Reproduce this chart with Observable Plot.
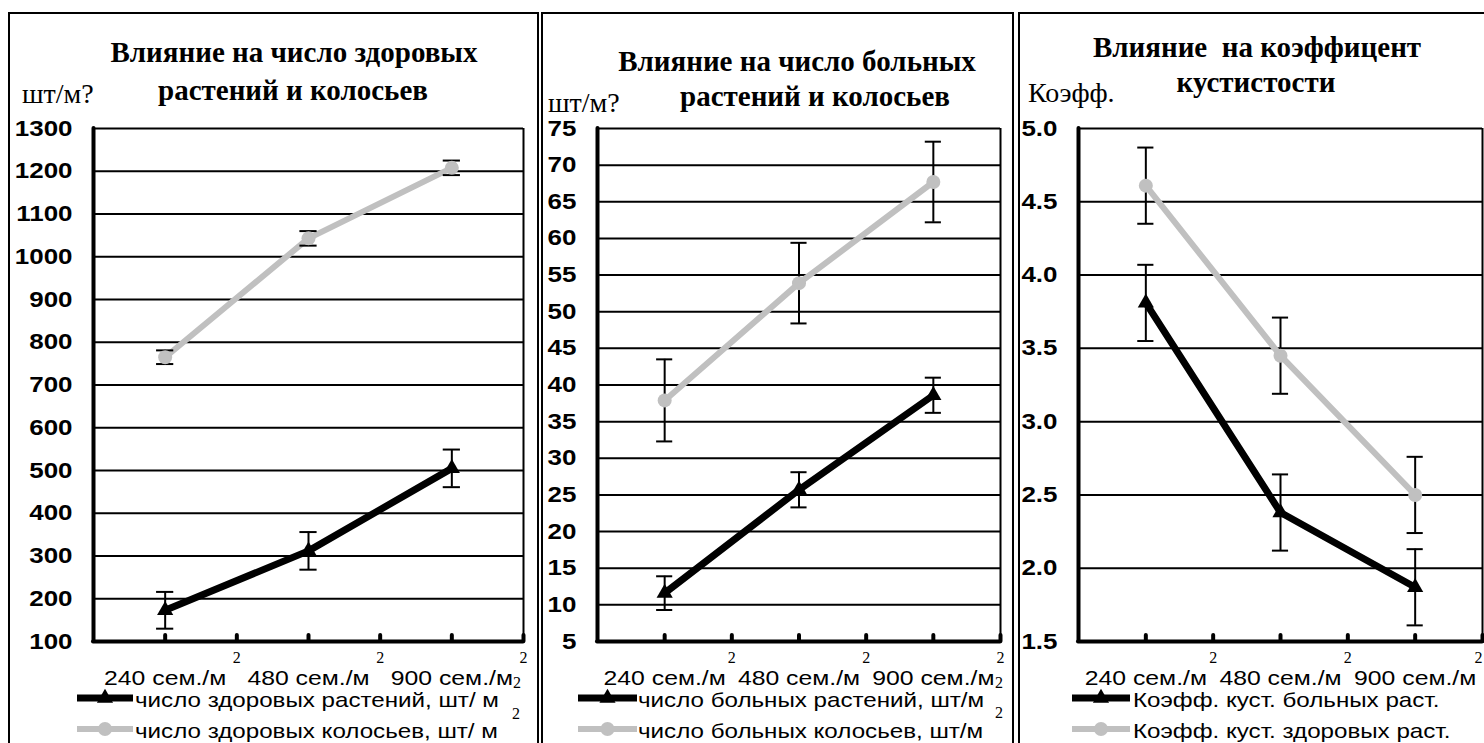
<!DOCTYPE html>
<html><head><meta charset="utf-8">
<script src="https://cdn.jsdelivr.net/npm/d3@7"></script>
<script src="https://cdn.jsdelivr.net/npm/@observablehq/plot@0.6"></script>
<style>
body{margin:0;background:#fff;}
#root{position:relative;width:1484px;height:743px;overflow:hidden;background:#fff;}
#root > svg{position:absolute;top:0;}
</style></head>
<body><div id="root"></div>
<script>
// ---------- data ----------
const categories = ["240 сем./м", "480 сем./м", "900 сем./м"];

// panel 1: healthy plants / healthy ears, pcs per m²
const healthyPlants    = [173, 312, 505];
const healthyPlantsErr = [43, 44, 44];
const healthyEars      = [765, 1043, 1208];
const healthyEarsErr   = [16, 17, 17];
const yTicks1 = [100, 200, 300, 400, 500, 600, 700, 800, 900, 1000, 1100, 1200, 1300];

// panel 2: diseased plants / diseased ears
const diseasedPlants    = [11.6, 25.7, 38.6];
const diseasedPlantsErr = [2.3, 2.4, 2.4];
const diseasedEars      = [37.9, 53.9, 67.7];
const diseasedEarsErr   = [5.6, 5.5, 5.5];
const yTicks2 = [5, 10, 15, 20, 25, 30, 35, 40, 45, 50, 55, 60, 65, 70, 75];

// panel 3: tillering coefficient
const tillerDiseased    = [3.81, 2.38, 1.87];
const tillerDiseasedErr = [0.26, 0.26, 0.26];
const tillerHealthy     = [4.61, 3.45, 2.50];
const tillerHealthyErr  = [0.26, 0.26, 0.26];
const yTicks3 = [1.5, 2.0, 2.5, 3.0, 3.5, 4.0, 4.5, 5.0];

const titles = [
  ["Влияние на число здоровых", "растений и колосьев"],
  ["Влияние на число больных", "растений и колосьев"],
  ["Влияние  на коэффицент", "кустистости"]
];
const units = ["шт/м?", "шт/м?", "Коэфф."];
const legends = [
  ["число здоровых растений, шт/ м", "число здоровых колосьев, шт/ м"],
  ["число больных растений, шт/м", "число больных колосьев, шт/м"],
  ["Коэфф. куст. больных раст.", "Коэфф. куст. здоровых раст."]
];

// ---------- drawing ----------
const SANS = "'Liberation Sans', Arial, sans-serif";
const SERIF = "'Liberation Serif', 'Times New Roman', serif";
const GREY = "#c0c0c0";
const H = 743, MT = 128, MB = 102;
const root = document.getElementById("root");

function rows(vals, errs) { return vals.map((v, i) => ({x: i + 0.5, v, e: errs[i]})); }

function errMarks(r) {
  return [
    Plot.ruleX(r, {x: "x", y1: d => d.v - d.e, y2: d => d.v + d.e, stroke: "black", strokeWidth: 2}),
    Plot.ruleY(r, {y: d => d.v + d.e, x1: d => d.x - 0.06, x2: d => d.x + 0.06, stroke: "black", strokeWidth: 2}),
    Plot.ruleY(r, {y: d => d.v - d.e, x1: d => d.x - 0.06, x2: d => d.x + 0.06, stroke: "black", strokeWidth: 2})
  ];
}

function panel({left, width, ml, mr, yTicks, fmt, black, grey, lastDx}) {
  const ydom = [yTicks[0], yTicks[yTicks.length - 1]];
  const plotH = H - MT - MB;
  const supStyle = {text: () => "2", frameAnchor: "bottom", lineAnchor: "bottom", dy: 21, fontFamily: SERIF, fontSize: 16, fill: "black"};
  const chart = Plot.plot({
    width, height: H,
    marginLeft: ml, marginRight: mr, marginTop: MT, marginBottom: MB,
    x: {domain: [0, 3], axis: null},
    y: {domain: ydom, label: null},
    style: {fontFamily: SANS, fontSize: "21px", background: "transparent", overflow: "visible", color: "black"},
    marks: [
      Plot.ruleY(yTicks.slice(1), {stroke: "black", strokeWidth: 2}),
      Plot.ruleX([3], {stroke: "black", strokeWidth: 2}),
      Plot.ruleX([0], {stroke: "black", strokeWidth: 4, strokeLinecap: "round"}),
      Plot.ruleY([ydom[0]], {stroke: "black", strokeWidth: 4, strokeLinecap: "round"}),
      Plot.tickX([0.5, 1, 1.5, 2, 2.5, 3], {x: d => d, insetTop: plotH - 6, stroke: "black", strokeWidth: 4, strokeLinecap: "round"}),
      Plot.axisY({ticks: yTicks, tickSize: 0, tickPadding: 21, tickFormat: fmt, fontWeight: "bold", fontSize: 22, fill: "black", label: null}),
      Plot.text(categories.map((c, i) => ({x: i + 0.5, c})), {x: "x", text: "c", frameAnchor: "bottom", lineAnchor: "bottom", dy: 43, fontSize: 21, fill: "black"}),
      Plot.text([1, 2], {x: d => d, ...supStyle}),
      Plot.text([3], {x: d => d, dx: lastDx, ...supStyle}),
      Plot.line(grey, {x: "x", y: "v", stroke: GREY, strokeWidth: 6}),
      Plot.line(black, {x: "x", y: "v", stroke: "black", strokeWidth: 7}),
      ...errMarks(grey),
      ...errMarks(black),
      Plot.dot(grey, {x: "x", y: "v", r: 7, fill: GREY, stroke: null}),
      Plot.dot(black, {x: "x", y: "v", r: 6, symbol: "triangle", fill: "black", stroke: null})
    ]
  });
  chart.style.left = left + "px";
  root.appendChild(chart);
}

panel({left: 0, width: 540, ml: 93, mr: 17, yTicks: yTicks1, fmt: d3.format("d"), lastDx: 0,
  black: rows(healthyPlants, healthyPlantsErr), grey: rows(healthyEars, healthyEarsErr)});
panel({left: 540, width: 475, ml: 57, mr: 15, yTicks: yTicks2, fmt: d3.format("d"), lastDx: 0,
  black: rows(diseasedPlants, diseasedPlantsErr), grey: rows(diseasedEars, diseasedEarsErr)});
panel({left: 1015, width: 469, ml: 63, mr: 2, yTicks: yTicks3, fmt: d3.format(".1f"), lastDx: -4,
  black: rows(tillerDiseased, tillerDiseasedErr), grey: rows(tillerHealthy, tillerHealthyErr)});

// ---------- overlay: frames, titles, units, legends ----------
const ov = d3.select(root).append("svg").attr("width", 1484).attr("height", H).style("left", "0px");
const boxes = [[9, 529], [542, 471], [1019, 600]];
boxes.forEach(([x, w]) => ov.append("rect").attr("x", x).attr("y", 13).attr("width", w).attr("height", 800)
  .attr("fill", "none").attr("stroke", "black").attr("stroke-width", 2));

const titlePos = [[294, 62, 293, 100], [797, 71, 815, 106], [1257, 57, 1256, 92]];
titlePos.forEach(([x1, y1, x2, y2], i) => {
  [[x1, y1, titles[i][0]], [x2, y2, titles[i][1]]].forEach(([x, y, t]) =>
    ov.append("text").attr("x", x).attr("y", y).attr("text-anchor", "middle")
      .style("white-space", "pre").attr("font-family", SERIF).attr("font-weight", "bold")
      .attr("font-size", 29).text(t));
});
const unitPos = [[22, 103], [548, 112], [1028, 102]];
unitPos.forEach(([x, y], i) => ov.append("text").attr("x", x).attr("y", y)
  .attr("font-family", SERIF).attr("font-size", 28).text(units[i]));

const legPos = [[77, 133, 135], [578, 637, 638], [1072, 1130, 1133]];
const rowY = [707, 738];
legPos.forEach(([a, b, tx], i) => {
  rowY.forEach((y, j) => {
    const ly = y - 9;
    ov.append("line").attr("x1", a).attr("x2", b).attr("y1", ly).attr("y2", ly)
      .attr("stroke", j === 0 ? "black" : GREY).attr("stroke-width", j === 0 ? 7 : 6);
    const sym = j === 0 ? d3.symbol(d3.symbolTriangle, Math.PI * 36) : d3.symbol(d3.symbolCircle, Math.PI * 49);
    ov.append("path").attr("d", sym()).attr("transform", `translate(${(a + b) / 2},${ly})`)
      .attr("fill", j === 0 ? "black" : GREY);
    ov.append("text").attr("class", "leg").attr("x", tx).attr("y", y).attr("font-family", SANS).attr("font-size", 21).text(legends[i][j]);
  });
});
// stray "2" of m² that the original rendering displaced
[[517, 688], [516, 719], [999, 688], [999, 718]].forEach(([x, y]) =>
  ov.append("text").attr("x", x).attr("y", y).attr("text-anchor", "middle")
    .attr("font-family", SERIF).attr("font-size", 16).text("2"));

// widen sans-serif text as in the original rendering
root.querySelectorAll("text").forEach(t => {
  if (!/Liberation Sans/.test(getComputedStyle(t).fontFamily)) return;
  const L = t.getComputedTextLength();
  const f = t.classList.contains("leg") ? 1.15 : 1.18;
  if (L > 0) { t.setAttribute("textLength", L * f); t.setAttribute("lengthAdjust", "spacingAndGlyphs"); }
});
</script>
</body></html>
